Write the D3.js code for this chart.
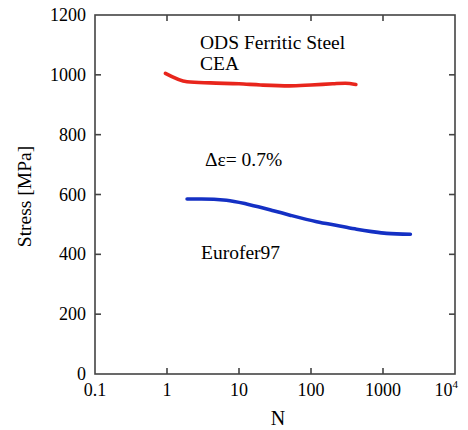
<!DOCTYPE html>
<html>
<head>
<meta charset="utf-8">
<script src="https://cdn.jsdelivr.net/npm/d3@7/dist/d3.min.js"></script>
<style>
  html, body { margin: 0; padding: 0; background: #fff; }
  svg text { font-family: "Liberation Serif", "Times New Roman", serif; fill: #000; }
</style>
</head>
<body>
<svg id="chart" width="468" height="430"></svg>
<script>
// Cyclic stress response at strain range 0.7%
const odsCycles   = [0.95, 1.9, 4, 10, 20, 50, 100, 200, 300, 420];
const odsStress   = [1005, 977, 973, 970, 966, 963, 966, 970, 972, 968];
const euroCycles  = [1.9, 3, 6.7, 14, 30, 51, 120, 250, 430, 700, 1120, 2400];
const euroStress  = [585, 585, 581, 566, 546, 531, 509, 495, 484, 476, 470, 467];

const xTicks = [0.1, 1, 10, 100, 1000, 10000];
const yTicks = [0, 200, 400, 600, 800, 1000, 1200];

const svg = d3.select("#chart");
const plotL = 95, plotR = 455, plotT = 15, plotB = 374;

const x = d3.scaleLog().domain([0.1, 10000]).range([plotL, plotR]);
const y = d3.scaleLinear().domain([0, 1200]).range([plotB, plotT]);

const axisColor = "#444";
const tick = 6;

// frame
svg.append("rect")
  .attr("x", plotL).attr("y", plotT)
  .attr("width", plotR - plotL).attr("height", plotB - plotT)
  .attr("fill", "none").attr("stroke", axisColor).attr("stroke-width", 1.6);

// inward ticks on all sides
const tg = svg.append("g").attr("stroke", axisColor).attr("stroke-width", 1.6);
xTicks.slice(1, -1).forEach(t => {
  tg.append("line").attr("x1", x(t)).attr("x2", x(t)).attr("y1", plotB).attr("y2", plotB - tick);
  tg.append("line").attr("x1", x(t)).attr("x2", x(t)).attr("y1", plotT).attr("y2", plotT + tick);
});
yTicks.slice(1, -1).forEach(t => {
  tg.append("line").attr("y1", y(t)).attr("y2", y(t)).attr("x1", plotL).attr("x2", plotL + tick);
  tg.append("line").attr("y1", y(t)).attr("y2", y(t)).attr("x1", plotR).attr("x2", plotR - tick);
});

// y tick labels
svg.append("g").selectAll("text").data(yTicks).join("text")
  .attr("x", plotL - 9).attr("y", d => y(d) + 6)
  .attr("text-anchor", "end").attr("font-size", 18)
  .text(d => d);

// x tick labels
const xl = svg.append("g");
xTicks.forEach(t => {
  const txt = xl.append("text")
    .attr("x", x(t)).attr("y", plotB + 22)
    .attr("text-anchor", "middle").attr("font-size", 18);
  if (t === 10000) {
    txt.attr("x", x(t) + 3).attr("text-anchor", "end");
    txt.append("tspan").text("10");
    txt.append("tspan").attr("dy", -8).attr("font-size", 11).text("4");
  } else {
    txt.text(t);
  }
});

// axis titles
svg.append("text")
  .attr("transform", `translate(31,${(plotT + plotB) / 2 + 2}) rotate(-90)`)
  .attr("text-anchor", "middle").attr("font-size", 19.5)
  .text("Stress [MPa]");
svg.append("text")
  .attr("x", 278).attr("y", 425)
  .attr("text-anchor", "middle").attr("font-size", 20)
  .text("N");

// curves
const line = d3.line().curve(d3.curveMonotoneX);
function curve(xs, ys, color) {
  svg.append("path")
    .attr("d", line(xs.map((v, i) => [x(v), y(ys[i])])))
    .attr("fill", "none").attr("stroke", color)
    .attr("stroke-width", 3.6).attr("stroke-linecap", "round");
}
curve(odsCycles, odsStress, "#e8251c");
curve(euroCycles, euroStress, "#1430c4");

// annotations
const ann = [
  { t: "ODS Ferritic Steel", x: 200, y: 49 },
  { t: "CEA", x: 200, y: 70 },
  { t: "Δε= 0.7%", x: 205, y: 166 },
  { t: "Eurofer97", x: 201, y: 259 }
];
svg.append("g").selectAll("text").data(ann).join("text")
  .attr("x", d => d.x).attr("y", d => d.y)
  .attr("font-size", 19.5)
  .text(d => d.t);
</script>
</body>
</html>
